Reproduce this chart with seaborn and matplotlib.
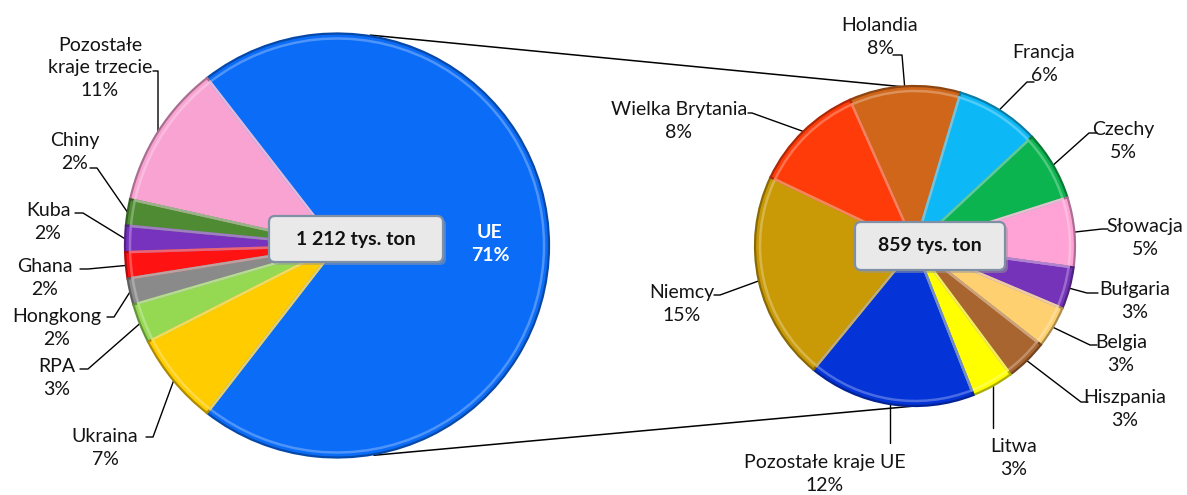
import numpy as np
import matplotlib
matplotlib.use("Agg")
import matplotlib.pyplot as plt
import seaborn as sns
from matplotlib.patches import FancyBboxPatch
import matplotlib.colors as mcolors

sns.set_theme(style="white")
plt.rcParams['font.family'] = ['Lato', 'DejaVu Sans']

# ---------------- data ----------------
left_labels = ["UE", "Pozostałe\nkraje trzecie", "Chiny", "Kuba", "Ghana",
               "Hongkong", "RPA", "Ukraina"]
left_values = [71, 11, 2, 2, 2, 2, 3, 7]
left_colors = ["#0A6CF7", "#F9A3D3", "#4E8B33", "#7733BE", "#FF1212",
               "#8A8A8A", "#95D852", "#FFCC00"]
left_total = "1 212 tys. ton"

right_labels = ["Holandia", "Francja", "Czechy", "Słowacja", "Bułgaria", "Belgia",
                "Hiszpania", "Litwa", "Pozostałe kraje UE", "Niemcy", "Wielka Brytania"]
right_values = [8, 6, 5, 5, 3, 3, 3, 3, 12, 15, 8]
right_colors = ["#D0661A", "#0DB8F6", "#0CB450", "#FFA2D6", "#7433B8", "#FFD070",
                "#A8652F", "#FFFF00", "#0434D8", "#C99A06", "#FF3B0A"]
right_total = "859 tys. ton"

# ---------------- layout ----------------
W, H = 1187, 495
fig = plt.figure(figsize=(W / 100, H / 100), dpi=100)
ax = fig.add_axes([0, 0, 1, 1])


def Y(y):
    return H - y


LC, LR = (337, 245.5), 212
RC, RR = (915, 246), 160

l_start = -left_values[0] / sum(left_values) * 360 / 2
r_start = 114


def shade(c, f):
    r, g, b = mcolors.to_rgb(c)
    if f < 1:
        return (r * f, g * f, b * f)
    return (r + (1 - r) * (f - 1), g + (1 - g) * (f - 1), b + (1 - b) * (f - 1))


def draw_pie(values, colors, center, radius, start, ccw):
    wedges, _ = ax.pie(values, colors=colors, center=(center[0], Y(center[1])),
                       radius=radius, startangle=start, counterclock=ccw,
                       frame=True,
                       wedgeprops=dict(linewidth=1.6, edgecolor="white"))
    for w, c in zip(wedges, colors):
        w.set_edgecolor(shade(c, 0.68))
        w.set_zorder(3)
    # inner highlight for a bevel look
    w2, _ = ax.pie(values, colors=["none"] * len(values), center=(center[0], Y(center[1])),
                   radius=radius - 5, startangle=start, counterclock=ccw, frame=True,
                   wedgeprops=dict(linewidth=1.8, fill=False))
    for w, c in zip(w2, colors):
        w.set_edgecolor(shade(c, 1.35))
        w.set_alpha(0.8)
        w.set_zorder(4)
    return wedges


def pt(center, radius, ang):
    a = np.deg2rad(ang)
    return center[0] + radius * np.cos(a), Y(center[1]) + radius * np.sin(a)


# connector lines between the two pies
p1 = pt(LC, LR + 1, 81)
p2 = pt(RC, RR, 95)
p3 = pt(LC, LR + 1, -80)
p4 = pt(RC, RR, -90)
ax.plot([p1[0], p2[0]], [p1[1], p2[1]], color="black", lw=1.1, zorder=1)
ax.plot([p3[0], p4[0]], [p3[1], p4[1]], color="black", lw=1.1, zorder=1)

lw_ = draw_pie(left_values, left_colors, LC, LR, l_start, True)
rw_ = draw_pie(right_values, right_colors, RC, RR, r_start, False)

FS = 14


def mid_angle(w):
    return (w.theta1 + w.theta2) / 2


# label layout: (text center in image coords, leader elbow points in image coords)
left_layout = [
    None,
    ((100, 68), [(153, 71), (158, 71)]),
    ((75, 152), [(90, 168), (97, 168)]),
    ((48, 222), [(75, 213), (83, 213)]),
    ((45, 278), [(80, 269), (88, 269)]),
    ((57, 328), [(107, 317), (114, 317)]),
    ((57, 378), [(80, 369), (88, 369)]),
    ((105, 448), [(146, 437), (153, 437)]),
]
right_layout = [
    ((880, 37), [(893, 55), (902, 55)]),
    ((1044, 64), [(1034, 82), (1027, 82)]),
    ((1123, 141), [(1097, 133), (1089, 133)]),
    ((1145, 238), [(1108, 229), (1102, 229)]),
    ((1135, 301), [(1098, 293), (1087, 293)]),
    ((1121, 354), [(1097, 345), (1090, 345)]),
    ((1125, 409), [(1088, 402), (1081, 402)]),
    ((1014, 458), [(None, 428)]),
    ((825, 474), [(None, 443)]),
    ((682, 304), [(714, 295), (720, 295)]),
    ((679, 121), [(748, 113), (752, 113)]),
]


def label_all(wedges, labels, values, layout, center, radius):
    for w, lab, v, lay in zip(wedges, labels, values, layout):
        if lay is None:
            continue
        (tx, ty), elbows = lay
        ax.text(tx, Y(ty), f"{lab}\n{v}%", ha="center", va="center",
                fontsize=FS, linespacing=1.4, color="#141414", zorder=6)
        a = pt(center, radius, mid_angle(w))
        xs, ys = [], []
        for ex, ey in elbows:
            xs.append(a[0] if ex is None else ex)
            ys.append(Y(ey))
        xs.append(a[0])
        ys.append(a[1])
        ax.plot(xs, ys, color="black", lw=1.0, zorder=2)


label_all(lw_, left_labels, left_values, left_layout, LC, LR)
label_all(rw_, right_labels, right_values, right_layout, RC, RR)

# UE label inside its slice
ax.text(490, Y(244), f"{left_labels[0]}\n{left_values[0]}%", ha="center", va="center",
        fontsize=FS, fontweight="bold", color="white", linespacing=1.4, zorder=6)


def total_box(cx, cy, w, h, txt):
    sh = FancyBboxPatch((cx - w / 2 + 3, Y(cy) - h / 2 - 3), w, h,
                        boxstyle="round,pad=0,rounding_size=6",
                        facecolor="#9A9A9A", edgecolor="none", alpha=0.5, zorder=6.5)
    ax.add_patch(sh)
    box = FancyBboxPatch((cx - w / 2, Y(cy) - h / 2), w, h,
                         boxstyle="round,pad=0,rounding_size=6",
                         facecolor="#E9E9E9", edgecolor="#7F8FA6", lw=1.6, zorder=7)
    ax.add_patch(box)
    ax.text(cx, Y(cy), txt, ha="center", va="center", fontsize=FS,
            fontweight="bold", color="#111111", zorder=8)


total_box(356, 239, 174, 46, left_total)
total_box(930, 246, 150, 48, right_total)

ax.set_xlim(0, W)
ax.set_ylim(0, H)
ax.set_aspect("equal")
ax.axis("off")
fig.savefig("out.png", dpi=100, facecolor="white")
